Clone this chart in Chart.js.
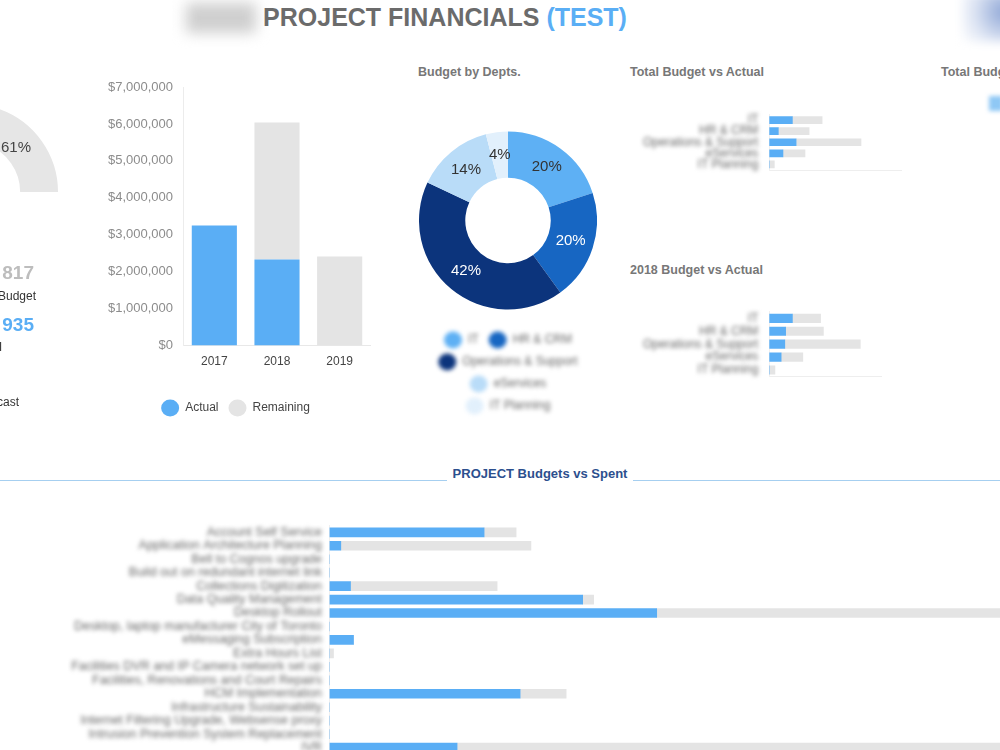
<!DOCTYPE html>
<html>
<head>
<meta charset="utf-8">
<script src="https://cdn.jsdelivr.net/npm/chart.js@4.4.1/dist/chart.umd.min.js"></script>
<style>
html, body { margin: 0; padding: 0; width: 1000px; height: 750px; overflow: hidden; background: #fff; font-family: "Liberation Sans", Arial, sans-serif; }
canvas { position: absolute; display: block; }
.abs { position: absolute; white-space: nowrap; }
.head { font-weight: bold; font-size: 12.5px; color: #777; }
.line { position: absolute; top: 480px; height: 0; border-top: 1.5px solid #a6cff0; }
</style>
</head>
<body>

<!-- top banner -->
<div class="abs" style="left:186px;top:3px;width:70px;height:30px;background:#cfcfcf;filter:blur(7px);"></div>
<div class="abs" style="left:0;top:5px;width:890px;text-align:center;font-weight:bold;font-size:25px;line-height:25px;letter-spacing:0;color:#6b6b6b;">PROJECT FINANCIALS <span style="color:#5aaef5">(TEST)</span></div>
<div class="abs" style="left:962px;top:-8px;width:60px;height:50px;background:radial-gradient(circle at 70% 40%, #8ea6d6, #dfe6f4 60%, #fff);filter:blur(5px);"></div>

<!-- left summary -->
<canvas id="gauge" width="176" height="88" style="left:-118px;top:104px;"></canvas>
<div id="gaugeLabel" class="abs" style="left:1px;top:138px;font-size:15px;color:#444;"></div>
<div class="abs" style="right:966px;top:262px;font-weight:bold;font-size:19px;color:#bdbdbd;">817</div>
<div class="abs" style="right:964px;top:289px;font-size:12px;color:#333;">Budget</div>
<div class="abs" style="right:966px;top:314px;font-weight:bold;font-size:19px;color:#5aaef5;">935</div>
<div class="abs" style="right:998px;top:340px;font-size:12px;color:#333;">Actual</div>
<div class="abs" style="right:981px;top:395px;font-size:12px;color:#333;">Forecast</div>

<!-- yearly bars -->
<canvas id="years" width="271" height="349" style="left:100px;top:75px;"></canvas>

<!-- depts doughnut -->
<div class="abs head" style="left:418px;top:65px;">Budget by Depts.</div>
<canvas id="depts" width="178" height="305" style="left:419px;top:117px;"></canvas>

<!-- right small bars -->
<div class="abs head" style="left:630px;top:65px;">Total Budget vs Actual</div>
<canvas id="totalBars" width="272" height="70" style="left:630px;top:108px;"></canvas>
<div class="abs head" style="left:630px;top:263px;">2018 Budget vs Actual</div>
<canvas id="bars2018" width="252" height="80" style="left:630px;top:305px;"></canvas>
<div class="abs head" style="left:941px;top:65px;">Total Budget</div>
<div class="abs" style="left:989px;top:96px;width:14px;height:15px;background:#8fc8f5;filter:blur(2px);"></div>

<!-- projects -->
<div class="line" style="left:0;width:447px;"></div>
<div class="line" style="left:633px;width:367px;"></div>
<div class="abs" style="left:447px;width:186px;top:466px;text-align:center;font-family:'Liberation Sans Narrow','Liberation Sans',Arial,sans-serif;font-weight:bold;font-size:13px;color:#2c4f8e;">PROJECT Budgets vs Spent</div>
<canvas id="projects" width="1130" height="240" style="left:0;top:520px;"></canvas>

<script>
// ---- data ----
const gaugeValues = [61, 39];

const years = ['2017', '2018', '2019'];
const yearActual = [3250000, 2330000, 0];
const yearRemaining = [0, 3710000, 2410000];

const depts = ['IT', 'HR & CRM', 'Operations & Support', 'eServices', 'IT Planning'];
const deptShare = [20, 20, 42, 14, 4];

const totalActual = [1740000, 680000, 2020000, 1030000, 0];
const totalRemaining = [2240000, 2320000, 4890000, 1660000, 380000];

const actual2018 = [820000, 580000, 550000, 420000, 0];
const remaining2018 = [1000000, 1340000, 2680000, 770000, 200000];

const projects = [
  'Account Self Service',
  'Application Architecture Planning',
  'Bell to Cognos upgrade',
  'Build out on redundant internet link',
  'Collections Digitization',
  'Data Quality Management',
  'Desktop Rollout',
  'Desktop, laptop manufacturer City of Toronto',
  'eMessaging Subscription',
  'Extra Hours List',
  'Facilities DVR and IP Camera network set up',
  'Facilities, Renovations and Court Repairs',
  'HCM Implementation',
  'Infrastructure Sustainability',
  'Internet Filtering Upgrade, Websense proxy',
  'Intrusion Prevention System Replacement',
  'IVR'
];
const projectSpent = [1545000, 113000, 0, 0, 210000, 2530000, 3270000, 0, 240000, 0, 0, 0, 1905000, 0, 0, 0, 1275000];
const projectRemaining = [320000, 1900000, 0, 0, 1465000, 110000, 4300000, 0, 0, 40000, 0, 0, 460000, 0, 0, 0, 5500000];

const BLUE = '#5aaef5';
const GREY = '#e4e4e4';
const deptColors = ['#5eb0f4', '#1766c2', '#0c347c', '#b9dcf8', '#e2f0fc'];
const deptLabelColors = ['#333', '#fff', '#fff', '#333', '#333'];

Chart.defaults.font.family = '"Liberation Sans", Arial, sans-serif';
Chart.defaults.animation = false;
Chart.defaults.events = [];
Chart.defaults.plugins.tooltip.enabled = false;

// the reference has some labels blurred out, so blur those text layers
function wrapBlur(obj, fn, px) {
  if (!obj || obj['_blur_' + fn]) return;
  const orig = obj[fn];
  obj[fn] = function () {
    const c = this.ctx;
    c.save();
    c.filter = 'blur(' + px + 'px)';
    orig.apply(this, arguments);
    c.restore();
  };
  obj['_blur_' + fn] = true;
}
const blurText = {
  id: 'blurText',
  afterLayout(chart, args, opts) {
    if (!opts.px) return;
    (opts.scales || []).forEach(id => wrapBlur(chart.scales[id], 'drawLabels', opts.px));
    if (opts.legend) wrapBlur(chart.legend, 'draw', opts.px);
  }
};

// percentage text on the doughnut slices
const arcLabels = {
  id: 'arcLabels',
  afterDatasetsDraw(chart, args, opts) {
    if (!opts.colors) return;
    const ctx = chart.ctx;
    const ds = chart.data.datasets[0];
    ctx.save();
    ctx.font = '15px "Liberation Sans", Arial, sans-serif';
    ctx.textAlign = 'center';
    ctx.textBaseline = 'middle';
    chart.getDatasetMeta(0).data.forEach((arc, i) => {
      const p = arc.tooltipPosition();
      ctx.fillStyle = opts.colors[i];
      ctx.fillText(ds.data[i] + '%', p.x, p.y);
    });
    ctx.restore();
  }
};
Chart.register(blurText, arcLabels);

const money = v => '$' + Number(v).toLocaleString('en-US');

// fixed axis width, and no extra label padding above/below the plot
function fixAxis(width) {
  return s => {
    s.width = width;
    s.paddingTop = 0;
    s.paddingBottom = 0;
  };
}

// gauge
document.getElementById('gaugeLabel').textContent = gaugeValues[0] + '%';
new Chart(document.getElementById('gauge'), {
  type: 'doughnut',
  data: { datasets: [{ data: gaugeValues, backgroundColor: [BLUE, '#e6e6e6'], borderWidth: 0 }] },
  options: {
    responsive: false,
    rotation: -90,
    circumference: 180,
    cutout: '57%',
    plugins: { legend: { display: false } }
  }
});

// actual vs remaining per year
new Chart(document.getElementById('years'), {
  type: 'bar',
  data: {
    labels: years,
    datasets: [
      { label: 'Actual', data: yearActual, backgroundColor: BLUE, categoryPercentage: 0.8, barPercentage: 0.9 },
      { label: 'Remaining', data: yearRemaining, backgroundColor: GREY, categoryPercentage: 0.8, barPercentage: 0.9 }
    ]
  },
  options: {
    responsive: false,
    layout: { padding: { top: 12 } },
    scales: {
      x: {
        stacked: true,
        grid: { display: false, drawTicks: false },
        border: { color: '#e8e8e8' },
        ticks: { color: '#444', font: { size: 12 }, padding: 9 },
        afterFit: s => { s.height = 46.5; }
      },
      y: {
        stacked: true,
        min: 0,
        max: 7000000,
        grid: { display: false, drawTicks: false },
        border: { color: '#ececec' },
        ticks: { stepSize: 1000000, color: '#8c8c8c', font: { size: 13 }, padding: 10, callback: money },
        afterFit: fixAxis(83)
      }
    },
    plugins: {
      legend: {
        position: 'bottom',
        labels: { usePointStyle: true, pointStyle: 'circle', pointStyleWidth: 18, color: '#444', font: { size: 12 }, padding: 10 }
      }
    }
  }
});

// budget by departments
new Chart(document.getElementById('depts'), {
  type: 'doughnut',
  data: {
    labels: depts,
    datasets: [{ data: deptShare, backgroundColor: deptColors, borderWidth: 0 }]
  },
  options: {
    responsive: false,
    cutout: '48%',
    plugins: {
      legend: {
        position: 'bottom',
        labels: { usePointStyle: true, pointStyleWidth: 18, color: '#666', font: { size: 12 }, padding: 10 }
      },
      arcLabels: { colors: deptLabelColors },
      blurText: { px: 2.2, legend: true }
    }
  }
});

function hbarOptions(max, axisWidth, padTop, xHeight, tickPad, fontSize) {
  return {
    responsive: false,
    indexAxis: 'y',
    layout: { padding: { top: padTop } },
    scales: {
      x: {
        stacked: true,
        min: 0,
        max: max,
        grid: { display: false, drawTicks: false },
        border: { color: '#eeeeee' },
        ticks: { display: false },
        afterFit: s => { s.height = xHeight; }
      },
      y: {
        stacked: true,
        grid: { display: false, drawTicks: false },
        border: { color: '#f0f0f0' },
        ticks: { autoSkip: false, color: '#666', font: { size: fontSize }, padding: tickPad },
        afterFit: fixAxis(axisWidth)
      }
    },
    plugins: {
      legend: { display: false },
      blurText: { px: 2, scales: ['y'] }
    }
  };
}

new Chart(document.getElementById('totalBars'), {
  type: 'bar',
  data: {
    labels: depts,
    datasets: [
      { label: 'Actual', data: totalActual, backgroundColor: BLUE, barThickness: 7 },
      { label: 'Remaining', data: totalRemaining, backgroundColor: GREY, barThickness: 7 }
    ]
  },
  options: hbarOptions(10000000, 139.3, 6.5, 8, 11, 12)
});

new Chart(document.getElementById('bars2018'), {
  type: 'bar',
  data: {
    labels: depts,
    datasets: [
      { label: 'Actual', data: actual2018, backgroundColor: BLUE, barThickness: 8.5 },
      { label: 'Remaining', data: remaining2018, backgroundColor: GREY, barThickness: 8.5 }
    ]
  },
  options: hbarOptions(4000000, 139.3, 6.9, 8.5, 11, 12)
});

new Chart(document.getElementById('projects'), {
  type: 'bar',
  data: {
    labels: projects,
    datasets: [
      { label: 'Spent', data: projectSpent, backgroundColor: BLUE, barThickness: 9 },
      { label: 'Remaining', data: projectRemaining, backgroundColor: GREY, barThickness: 9 }
    ]
  },
  options: hbarOptions(8000000, 329.5, 5.6, 5.7, 7.5, 12.5)
});
</script>
</body>
</html>
